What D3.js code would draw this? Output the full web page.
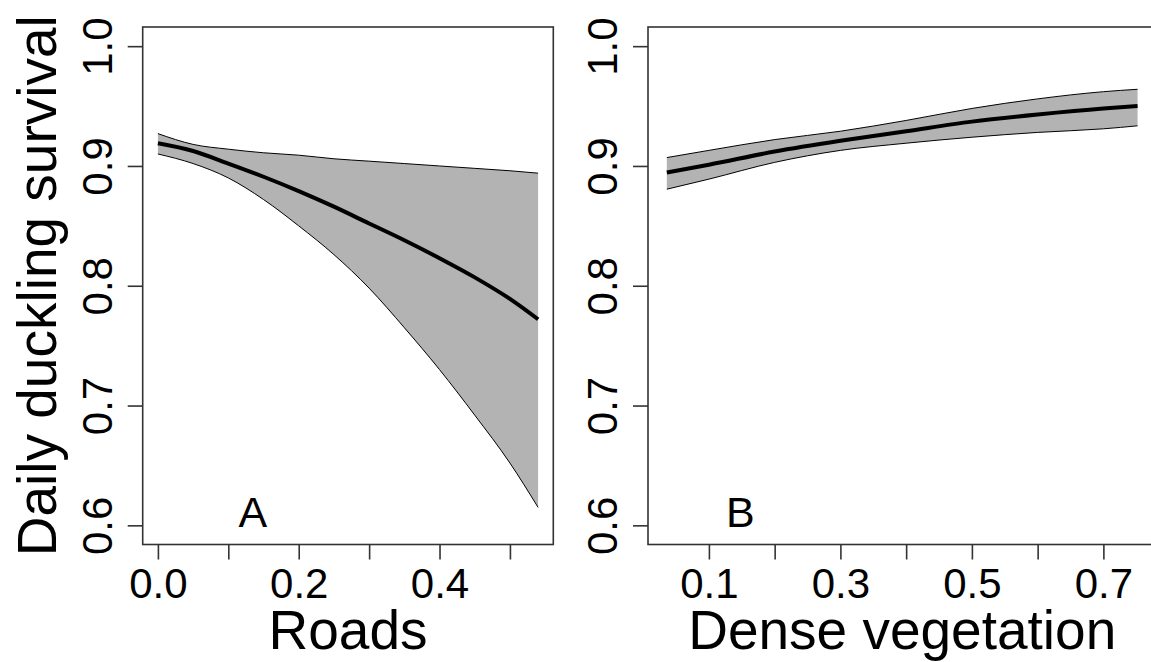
<!DOCTYPE html>
<html>
<head>
<meta charset="utf-8">
<script src="https://cdn.jsdelivr.net/npm/d3@7"></script>
<style>
body{margin:0;background:#fff;}
text{font-family:"Liberation Sans",Arial,sans-serif;fill:#000;}
</style>
</head>
<body>
<div id="chart"></div>
<script>
// panel A - roads
var roadsX=[0,0.05,0.10,0.15,0.20,0.25,0.30,0.35,0.40,0.45,0.50,0.54];
var roadsFit=[0.919,0.9125,0.902,0.891,0.879,0.866,0.852,0.838,0.823,0.807,0.789,0.772];
var roadsLow=[0.910,0.902,0.890,0.872,0.850,0.826,0.798,0.765,0.730,0.692,0.652,0.615];
var roadsHigh=[0.927,0.918,0.914,0.911,0.909,0.906,0.904,0.902,0.900,0.898,0.896,0.894];
// panel B - dense vegetation
var vegX=[0.036,0.1,0.2,0.3,0.4,0.5,0.6,0.7,0.752];
var vegFit=[0.8945,0.901,0.912,0.921,0.929,0.937,0.943,0.948,0.950];
var vegLow=[0.8806,0.889,0.903,0.913,0.919,0.924,0.928,0.931,0.9335];
var vegHigh=[0.907,0.913,0.922,0.929,0.938,0.948,0.956,0.962,0.964];
var yTicks=[0.6,0.7,0.8,0.9,1.0];
var roadsTicks=[0,0.1,0.2,0.3,0.4,0.5];
var roadsLabels=["0.0","","0.2","","0.4",""];
var vegTicks=[0.1,0.2,0.3,0.4,0.5,0.6,0.7];
var vegLabels=["0.1","","0.3","","0.5","","0.7"];

var wide=1151;
var high=662;
var boxTop=27;
var boxBottom=544.5;
var svg=d3
  .select("#chart")
  .append("svg")
  .attr("width",wide)
  .attr("height",high);

function pad(arr){
  var lo=d3.min(arr);
  var hi=d3.max(arr);
  var r=hi-lo;
  return [lo-r*0.04,hi+r*0.04];
}

var yscale=d3
  .scaleLinear()
  .domain(pad([0.6,1.0]))
  .range([boxBottom,boxTop]);

function panel(xs,fit,low,high2,ticks,labels,left,right,title,letter,letterX){
  var xscale=d3
    .scaleLinear()
    .domain(pad(xs))
    .range([left,right]);
  var g=svg.append("g");
  var band=xs.map(function(d,i){
    return {x:d,lo:low[i],hi:high2[i],fit:fit[i]};
  });
  var area=d3
    .area()
    .x(function(d){return xscale(d.x);})
    .y0(function(d){return yscale(d.lo);})
    .y1(function(d){return yscale(d.hi);})
    .curve(d3.curveMonotoneX);
  g.append("path")
    .datum(band)
    .attr("d",area)
    .style("fill","#b3b3b3")
    .style("stroke","none");
  ["lo","hi"].forEach(function(k){
    g.append("path")
      .datum(band)
      .attr("d",d3.line()
        .x(function(d){return xscale(d.x);})
        .y(function(d){return yscale(d[k]);})
        .curve(d3.curveMonotoneX))
      .style("fill","none")
      .style("stroke","#000")
      .style("stroke-width",1);
  });
  g.append("path")
    .datum(band)
    .attr("d",d3.line()
      .x(function(d){return xscale(d.x);})
      .y(function(d){return yscale(d.fit);})
      .curve(d3.curveMonotoneX))
    .style("fill","none")
    .style("stroke","#000")
    .style("stroke-width",4);
  // box
  g.append("rect")
    .attr("x",left)
    .attr("y",boxTop)
    .attr("width",right-left)
    .attr("height",boxBottom-boxTop)
    .style("fill","none")
    .style("stroke","#333")
    .style("stroke-width",1.6);
  var xaxis=d3
    .axisBottom(xscale)
    .tickValues(ticks)
    .tickSize(15)
    .tickFormat(function(d,i){return labels[i];});
  var xa=g.append("g")
    .attr("transform","translate(0,"+boxBottom+")")
    .call(xaxis);
  xa.select(".domain").remove();
  xa.selectAll(".tick line").style("stroke","#333").style("stroke-width",1.6);
  xa.selectAll(".tick text")
    .filter(function(){return this.textContent==="";})
    .remove();
  xa.selectAll(".tick text")
    .attr("dy",null)
    .attr("y",53)
    .attr("fill","#000")
    .style("font-size","42px");
  var yaxis=d3
    .axisLeft(yscale)
    .tickValues(yTicks)
    .tickSize(15)
    .tickFormat(d3.format(".1f"));
  var ya=g.append("g")
    .attr("transform","translate("+left+",0)")
    .call(yaxis);
  ya.select(".domain").remove();
  ya.selectAll(".tick line").style("stroke","#333").style("stroke-width",1.6);
  ya.selectAll(".tick text")
    .attr("x",null)
    .attr("dy",null)
    .attr("transform","translate(-31,0)rotate(-90)")
    .attr("text-anchor","middle")
    .attr("fill","#000")
    .style("font-size","42px");
  g.append("text")
    .attr("x",(left+right)/2)
    .attr("y",649)
    .attr("text-anchor","middle")
    .style("font-size","55px")
    .text(title);
  g.append("text")
    .attr("x",xscale(letterX))
    .attr("y",yscale(0.6)+2)
    .attr("text-anchor","middle")
    .style("font-size","43px")
    .text(letter);
}

panel(roadsX,roadsFit,roadsLow,roadsHigh,roadsTicks,roadsLabels,142.7,553.3,"Roads","A",0.135);
panel(vegX,vegFit,vegLow,vegHigh,vegTicks,vegLabels,648,1156.4,"Dense vegetation","B",0.148);

svg.append("text")
  .attr("transform","translate(56,"+((boxTop+boxBottom)/2)+")rotate(-90)")
  .attr("text-anchor","middle")
  .style("font-size","55px")
  .text("Daily duckling survival");
</script>
</body>
</html>
